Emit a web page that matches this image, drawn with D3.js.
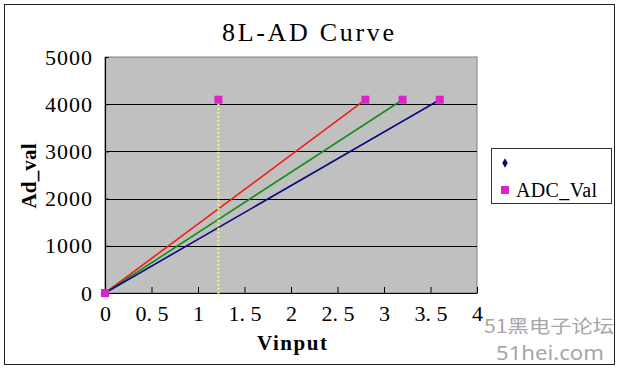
<!DOCTYPE html>
<html>
<head>
<meta charset="utf-8">
<script src="https://cdn.jsdelivr.net/npm/d3@7"></script>
<style>
  html, body { margin: 0; padding: 0; background: #fff; }
  svg { display: block; }
</style>
</head>
<body>
<svg id="chart" width="618" height="368"></svg>
<script>
// ---- data ----
const title = "8L-AD Curve";
const xLabel = "Vinput";
const yLabel = "Ad_val";
const xTicks = [0, 0.5, 1, 1.5, 2, 2.5, 3, 3.5, 4];
const yTicks = [0, 1000, 2000, 3000, 4000, 5000];
const redLine = [[0, 0], [2.8, 4095]];
const greenLine = [[0, 0], [3.2, 4095]];
const navyLine = [[0, 0], [3.6, 4095]];
const adcX = [0, 1.22, 2.8, 3.2, 3.6];
const adcY = [0, 4095, 4095, 4095, 4095];
const markerLine = [[1.22, 4095], [1.22, -80]];
const legendNames = ["", "ADC_Val"];

// ---- layout ----
const svg = d3.select("#chart");
const L = 105, R = 477, T = 57, B = 293;
const x = d3.scaleLinear().domain([0, 4]).range([L, R]);
const y = d3.scaleLinear().domain([0, 5000]).range([B, T]);
const serif = "'Liberation Serif', 'DejaVu Serif', serif";

// outer border
svg.append("rect").attr("x", 4.5).attr("y", 4.5).attr("width", 610).attr("height", 360)
  .attr("fill", "#fff").attr("stroke", "#222").attr("stroke-width", 1);

// plot area
svg.append("rect").attr("x", L).attr("y", T).attr("width", R - L).attr("height", B - T)
  .attr("fill", "#c0c0c0").attr("stroke", "#808080").attr("stroke-width", 1);

// gridlines
svg.append("g").selectAll("line").data(yTicks.filter(d => d > 0 && d < 5000)).join("line")
  .attr("x1", L).attr("x2", R).attr("y1", d => Math.round(y(d)) + 0.5).attr("y2", d => Math.round(y(d)) + 0.5)
  .attr("stroke", "#000").attr("stroke-width", 1);

// axes
const xAxis = d3.axisBottom(x).tickValues(xTicks).tickSizeInner(-6).tickSizeOuter(0).tickPadding(14)
  .tickFormat(d => d3.format("")(d).replace(".", ". "));
const gx = svg.append("g").attr("transform", `translate(0,${B})`).call(xAxis);
gx.select(".domain").attr("stroke", "#000").attr("stroke-width", 1.2);
gx.selectAll(".tick line").attr("stroke", "#000");
gx.selectAll(".tick text").attr("font-family", serif).attr("font-size", 22).attr("fill", "#000")
  .attr("dy", "0.71em").attr("y", 12).attr("xml:space", "preserve");

const yAxis = d3.axisLeft(y).tickValues(yTicks).tickSizeInner(-4).tickSizeOuter(0).tickPadding(14)
  .tickFormat(d3.format(""));
const gy = svg.append("g").attr("transform", `translate(${L},0)`).call(yAxis);
gy.select(".domain").attr("stroke", "#000").attr("stroke-width", 1.2);
gy.selectAll(".tick line").attr("stroke", "#000");
gy.selectAll(".tick text").attr("font-family", serif).attr("font-size", 22).attr("fill", "#000")
  .attr("letter-spacing", 1).attr("x", -12);

// lines
const line = d3.line().x(d => x(d[0])).y(d => y(d[1]));
svg.append("path").datum(redLine).attr("d", line).attr("fill", "none").attr("stroke", "#ee2211").attr("stroke-width", 1.6);
svg.append("path").datum(greenLine).attr("d", line).attr("fill", "none").attr("stroke", "#168c16").attr("stroke-width", 1.6);
svg.append("path").datum(navyLine).attr("d", line).attr("fill", "none").attr("stroke", "#0a0a80").attr("stroke-width", 1.6);
svg.append("path").datum(markerLine).attr("d", line).attr("fill", "none").attr("stroke", "#f4f07a")
  .attr("stroke-width", 2.2).attr("stroke-dasharray", "2,2");

// ADC markers
svg.append("g").selectAll("rect").data(adcX.map((d, i) => [d, adcY[i]])).join("rect")
  .attr("x", d => x(d[0]) - 4).attr("y", d => y(d[1]) - 4).attr("width", 8).attr("height", 8)
  .attr("fill", "#dd22cc");

// title
svg.append("text").attr("x", 308).attr("y", 41).attr("text-anchor", "middle")
  .attr("font-family", serif).attr("font-size", 26).attr("fill", "#000")
  .attr("textLength", 172).attr("lengthAdjust", "spacing").text(title);

// axis titles
svg.append("text").attr("x", 292).attr("y", 350).attr("text-anchor", "middle")
  .attr("font-family", serif).attr("font-size", 21).attr("font-weight", "bold").attr("fill", "#000")
  .attr("textLength", 70).attr("lengthAdjust", "spacing").text(xLabel);
svg.append("text").attr("transform", "translate(36,176) rotate(-90)").attr("text-anchor", "middle")
  .attr("font-family", serif).attr("font-size", 21).attr("font-weight", "bold").attr("fill", "#000")
  .attr("textLength", 65).attr("lengthAdjust", "spacing").text(yLabel);

// legend
const lg = svg.append("g");
lg.append("rect").attr("x", 491.5).attr("y", 148.5).attr("width", 120).attr("height", 55)
  .attr("fill", "#fff").attr("stroke", "#333").attr("stroke-width", 1);
lg.append("path").attr("d", d3.symbol(d3.symbolDiamond, 26)()).attr("transform", "translate(505,163)")
  .attr("fill", "#0a0a60");
lg.append("text").attr("x", 516).attr("y", 169).attr("font-family", serif).attr("font-size", 20).text(legendNames[0]);
lg.append("rect").attr("x", 501).attr("y", 186).attr("width", 8).attr("height", 8).attr("fill", "#dd22cc");
lg.append("text").attr("x", 516).attr("y", 197).attr("font-family", serif).attr("font-size", 20).attr("fill", "#000")
  .attr("textLength", 81).attr("lengthAdjust", "spacing").text(legendNames[1]);

// watermark
svg.append("text").attr("x", 484).attr("y", 333).attr("font-family", "'Noto Sans CJK SC', sans-serif")
  .attr("font-size", 18).attr("fill", "#a6a6a6").attr("textLength", 130).attr("lengthAdjust", "spacingAndGlyphs").text("51黑电子论坛");
svg.append("text").attr("x", 496).attr("y", 360).attr("font-family", "'Noto Sans', sans-serif")
  .attr("font-size", 19).attr("fill", "#a6a6a6").attr("textLength", 108).attr("lengthAdjust", "spacingAndGlyphs").text("51hei.com");
</script>
</body>
</html>
